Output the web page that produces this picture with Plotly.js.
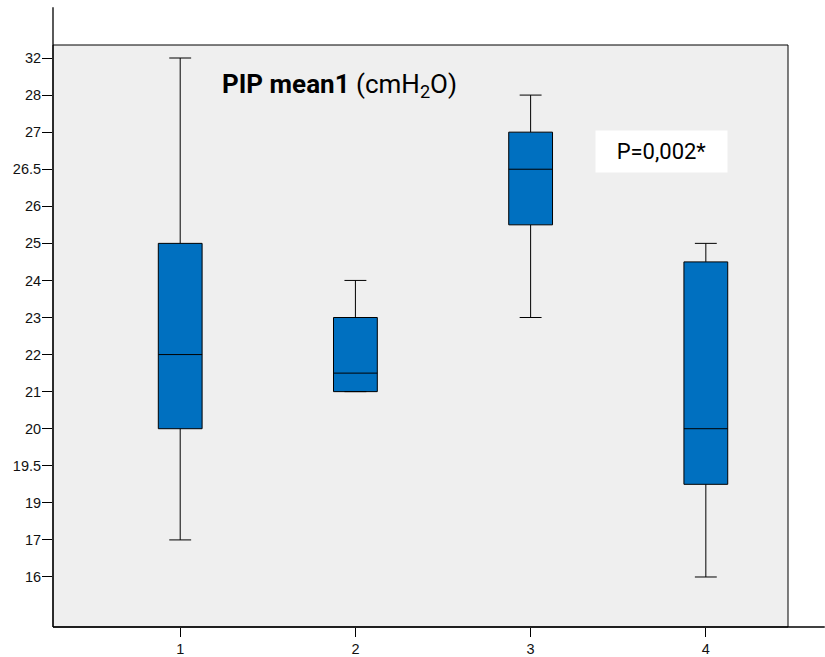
<!DOCTYPE html>
<html>
<head>
<meta charset="utf-8">
<script src="https://cdn.plot.ly/plotly-3.0.1.min.js"></script>
<style>html,body{margin:0;padding:0;background:#fff;}#chart{width:825px;height:657px;}</style>
</head>
<body>
<div id="chart"></div>
<script>
// Ordinal y-axis tick labels (evenly spaced in the original chart)
var yTickLabels = [16, 17, 19, 19.5, 20, 21, 22, 23, 24, 25, 26, 26.5, 27, 28, 32];
var groups = [1, 2, 3, 4];
var lowerWhisker = [17, 21, 23, 16];
var q1Values = [20, 21, 25.5, 19.25];
var medianValues = [22, 21.5, 26.5, 20];
var q3Values = [25, 23, 27, 24.5];
var upperWhisker = [32, 24, 28, 25];

// map a value onto the ordinal (rank) scale of the axis labels
function toRank(v) {
  for (var i = 0; i < yTickLabels.length - 1; i++) {
    var a = yTickLabels[i], b = yTickLabels[i + 1];
    if (v >= a && v <= b) return i + (v - a) / (b - a);
  }
  return v < yTickLabels[0] ? 0 : yTickLabels.length - 1;
}
var rankIdx = yTickLabels.map(function (_, i) { return i; });

var trace = {
  type: 'box',
  x: groups,
  lowerfence: lowerWhisker.map(toRank),
  q1: q1Values.map(toRank),
  median: medianValues.map(toRank),
  q3: q3Values.map(toRank),
  upperfence: upperWhisker.map(toRank),
  boxpoints: false,
  width: 0.25,
  whiskerwidth: 0.5,
  fillcolor: '#0070C0',
  line: { color: '#000000', width: 1 },
  hoverinfo: 'skip'
};

var layout = {
  width: 825, height: 657,
  margin: { l: 53, r: 37, t: 45, b: 30 },
  paper_bgcolor: '#ffffff',
  plot_bgcolor: '#efefef',
  showlegend: false,
  font: { family: 'Liberation Sans, Arial, sans-serif', size: 14.5, color: '#111' },
  xaxis: {
    range: [0.274, 4.469],
    tickvals: groups,
    ticktext: groups.map(String),
    ticks: 'outside', ticklen: 9, tickcolor: '#000',
    ticklabelstandoff: 0,
    showgrid: false, zeroline: false, showline: false
  },
  yaxis: {
    range: [-1.349, 14.351],
    tickvals: rankIdx,
    ticktext: yTickLabels.map(String),
    ticks: 'outside', ticklen: 10, tickcolor: '#000',
    ticklabelstandoff: -2,
    showgrid: false, zeroline: false, showline: false
  },
  shapes: [
    { type: 'rect', xref: 'paper', yref: 'paper', x0: 0, x1: 1, y0: 0, y1: 1,
      line: { color: '#000', width: 1 }, layer: 'above' },
    { type: 'line', xref: 'paper', yref: 'paper', x0: 0, x1: 0, y0: 0, y1: 1.065,
      line: { color: '#000', width: 1.3 } },
    { type: 'line', xref: 'paper', yref: 'paper', x0: 0, x1: 1.05, y0: 0, y1: 0,
      line: { color: '#000', width: 1.3 } }
  ],
  annotations: [
    { xref: 'paper', yref: 'paper', x: 0.227, y: 0.93, xanchor: 'left', yanchor: 'middle',
      showarrow: false,
      text: '<b>PIP mean1</b> (cmH<sub>2</sub>O)',
      font: { family: 'Roboto, Liberation Sans, sans-serif', size: 26, color: '#000' } },
    { xref: 'paper', yref: 'paper', x: 0.828, y: 0.817, xanchor: 'center', yanchor: 'middle',
      showarrow: false, text: 'P=0,002*',
      width: 123, height: 33, borderpad: 4, bgcolor: '#ffffff',
      font: { family: 'Roboto, Liberation Sans, sans-serif', size: 22, color: '#000' } }
  ]
};

Plotly.newPlot('chart', [trace], layout, { displayModeBar: false, staticPlot: true });
</script>
</body>
</html>
